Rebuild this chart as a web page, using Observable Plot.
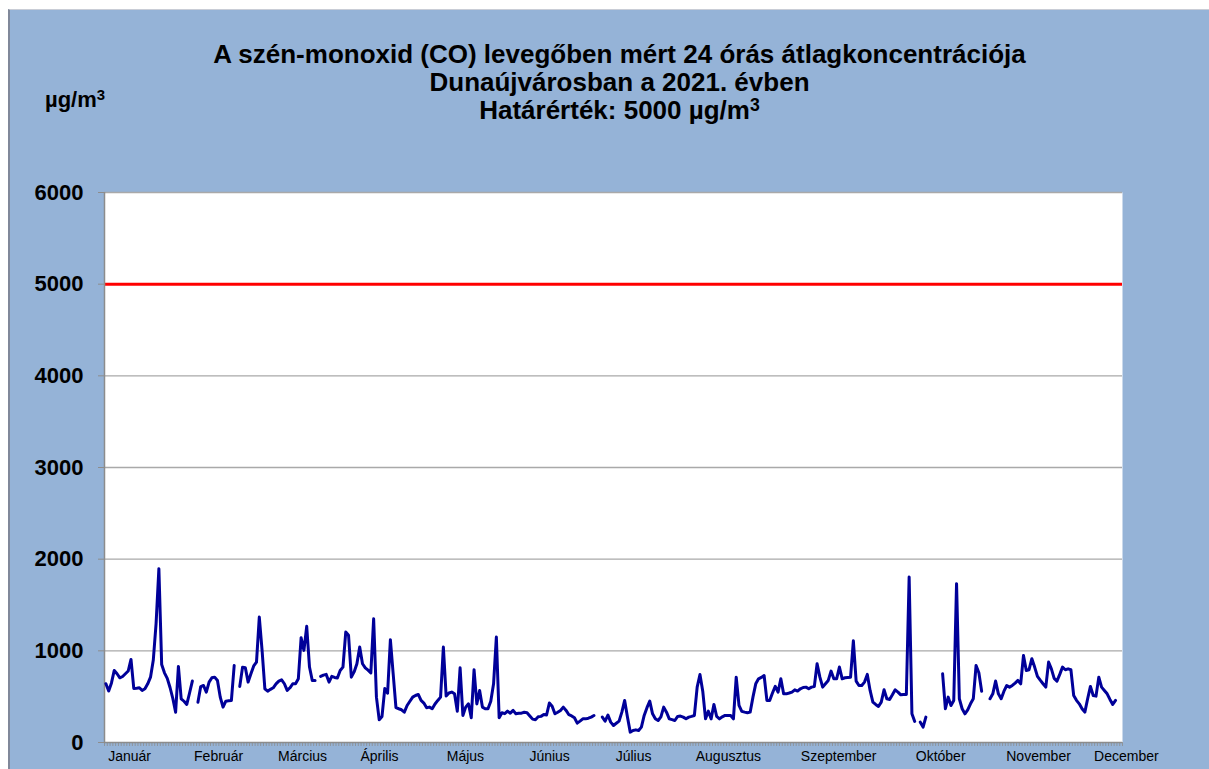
<!DOCTYPE html>
<html>
<head>
<meta charset="utf-8">
<script src="https://cdn.jsdelivr.net/npm/d3@7"></script>
<script src="https://cdn.jsdelivr.net/npm/@observablehq/plot@0.6"></script>
<style>
  body { margin: 0; background: #ffffff; width: 1209px; height: 769px; overflow: hidden; font-family: "Liberation Sans", Arial, sans-serif; }
  #bg { position: absolute; left: 8px; top: 9px; right: 0; bottom: 0; background: #95B3D7; border-left: 2px solid #80889a; border-top: 1px solid #c9cdd6; }
  #chart { position: absolute; left: 0; top: 0; }
  #title { position: absolute; left: 15px; width: 1209px; top: 40px; text-align: center; font-weight: bold; font-size: 26px; line-height: 28px; color: #000; }
  #unit { position: absolute; left: 45px; top: 86px; font-weight: bold; font-size: 22px; line-height: 28px; color: #000; }
  sup { font-size: 0.68em; vertical-align: 0.45em; line-height: 0; }
</style>
</head>
<body>
<div id="bg"></div>
<div id="chart"></div>
<div id="title">A szén-monoxid (CO) levegőben mért 24 órás átlagkoncentrációja<br>Dunaújvárosban a 2021. évben<br>Határérték: 5000 µg/m<sup>3</sup></div>
<div id="unit">µg/m<sup>3</sup></div>
<script>
// Daily 24-hour mean CO concentration (µg/m³), day index 0 = 1 January 2021; null = missing
const coValues = [
  641, 561, 650, 786, 750, 706, 720, 750, 780, 906,
  590, 593, 597, 568, 586, 640, 713, 900, 1300, 1896,
  850, 760, 700, 600, 480, 330, 830, 477, 450, 415,
  540, 670, null, 440, 610, 622, 550, 659, 706, 713,
  677, 495, 386, 451, 455, 459, 840, null, 612, 822,
  815, 659, 750, 835, 877, 1369, 1005, 586, 560, 580,
  597, 640, 670, 684, 641, 568, 597, 641, 641, 695,
  1143, 1005, 1267, 823, 677, 677, null, 721, 735, 743,
  659, 721, 710, 703, 786, 822, 1205, 1170, 713, 770,
  859, 1041, 859, 815, 790, 760, 1350, 495, 247, 284,
  590, 538, 1121, 750, 380, 368, 357, 331, 404, 450,
  495, 513, 524, 459, 430, 379, 386, 368, 420, 459,
  495, 1041, 506, 540, 550, 531, 342, 815, 295, 386,
  422, 270, 794, 420, 568, 386, 368, 368, 450, 640,
  1150, 270, 325, 315, 342, 320, 350, 313, 320, 320,
  330, 325, 290, 255, 248, 280, 285, 305, 300, 430,
  395, 313, 330, 350, 386, 350, 303, 290, 270, 211,
  233, 258, 258, 265, 277, 295, null, null, 277, 233,
  300, 222, 186, 210, 233, 331, 459, 277, 113, 131,
  138, 131, 168, 295, 380, 451, 313, 260, 240, 280,
  386, 331, 258, 250, 240, 284, 288, 277, 258, 277,
  285, 295, 604, 742, 560, 258, 342, 258, 415, 284,
  258, 280, 295, 295, 295, 258, 713, 404, 340, 331,
  324, 331, 495, 640, 695, 710, 731, 459, 459, 540,
  612, 550, 695, 531, 531, 540, 550, 575, 561, 586,
  600, 604, 586, 604, 610, 859, 713, 604, 640, 677,
  779, 695, 695, 823, 695, 706, 710, 713, 1110, 670,
  622, 622, 659, 743, 568, 441, 415, 393, 441, 575,
  477, 470, 520, 575, 550, 520, 524, 524, 1805, 313,
  230, null, 222, 168, 277, null, null, null, null, null,
  750, 368, 495, 404, 459, 1733, 477, 368, 313, 357,
  422, 477, 840, 760, 560, null, null, 477, 531, 670,
  531, 477, 560, 622, 604, 622, 648, 677, 640, 950,
  786, 794, 914, 823, 721, 680, 641, 604, 877, 804,
  700, 670, 743, 823, 794, 804, 794, 513, 460, 422,
  368, 331, 477, 612, 513, 506, 713, 604, 568, 531,
  470, 415, 459, null, null
];
const limitValue = 5000;
const yTicks = [0, 1000, 2000, 3000, 4000, 5000, 6000];
const monthNames = ["Január", "Február", "Március", "Április", "Május", "Június", "Július", "Augusztus", "Szeptember", "Október", "November", "December"];
// day index at which each month label is centred
const monthTickDays = [8.5, 40.4, 70.5, 98.1, 128.9, 159.1, 189.2, 223.2, 262.7, 299.3, 334.4, 365.9];

const nDays = coValues.length;
const series = coValues.map((v, i) => ({day: i, value: v}));
const dayBounds = d3.range(nDays + 1).map(i => i - 0.5);

const chart = Plot.plot({
  width: 1209,
  height: 769,
  marginLeft: 104,
  marginRight: 87,
  marginTop: 192,
  marginBottom: 27,
  style: {background: "transparent", fontFamily: "'Liberation Sans', Arial, sans-serif", color: "#000"},
  x: {domain: [-0.5, nDays - 0.5], axis: null},
  y: {domain: [0, 6000], axis: null},
  marks: [
    Plot.frame({fill: "#ffffff", stroke: null}),
    Plot.gridY(yTicks.slice(1), {stroke: "#a9a9a9", strokeOpacity: 1, strokeWidth: 1.4}),
    Plot.ruleY([limitValue], {stroke: "#ff0000", strokeWidth: 3}),
    Plot.ruleX([-0.5], {stroke: "#8c8c8c", strokeWidth: 1.5}),
    Plot.ruleY([0], {stroke: "#8c8c8c", strokeWidth: 1.5}),
    Plot.axisY(yTicks, {tickSize: 6, tickPadding: 15, fontSize: 22, fontWeight: "bold", stroke: "#8c8c8c", fill: "#000", label: null, tickFormat: d => String(d)}),
    Plot.axisX(dayBounds, {tickSize: 4, tickFormat: () => "", stroke: "#8c8c8c", strokeWidth: 0.8, label: null}),
    Plot.line(series, {x: "day", y: "value", stroke: "#000099", strokeWidth: 3, strokeLinejoin: "round"}),
    Plot.text(monthNames, {x: monthTickDays, frameAnchor: "bottom", dy: 18, fontSize: 14, fill: "#000"})
  ]
});
document.getElementById("chart").appendChild(chart);
</script>
</body>
</html>
